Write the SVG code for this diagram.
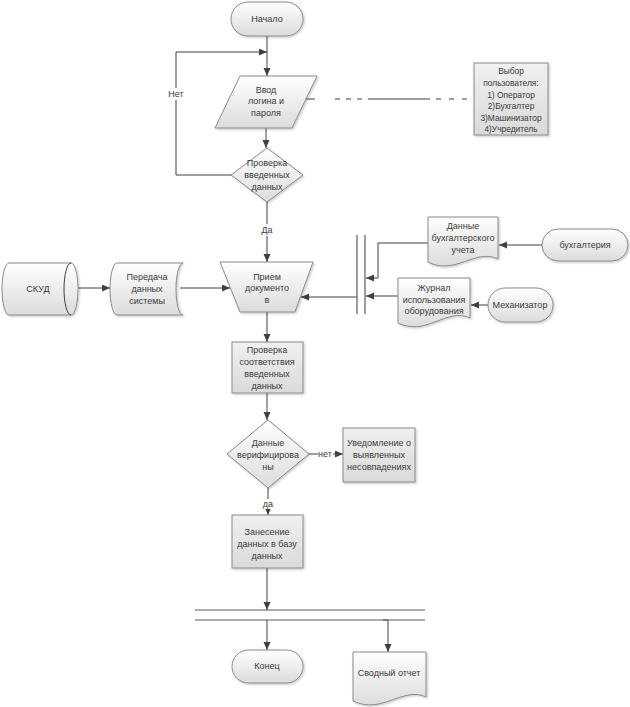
<svg xmlns="http://www.w3.org/2000/svg" width="630" height="707" viewBox="0 0 630 707">
<defs>
<linearGradient id="g" x1="0" y1="0" x2="0" y2="1">
<stop offset="0" stop-color="#ffffff"/>
<stop offset="1" stop-color="#dcdcdc"/>
</linearGradient>
<linearGradient id="g2" x1="0" y1="0" x2="0" y2="1">
<stop offset="0" stop-color="#f0f0f0"/>
<stop offset="1" stop-color="#dadada"/>
</linearGradient>
<filter id="sh" x="-10%" y="-10%" width="130%" height="130%">
<feDropShadow dx="1.2" dy="1.2" stdDeviation="0.8" flood-color="#000" flood-opacity="0.22"/>
</filter>
<marker id="ah" markerUnits="userSpaceOnUse" markerWidth="9" markerHeight="8" refX="8" refY="3.5" orient="auto">
<path d="M0,0 L8,3.5 L0,7 Z" fill="#404040"/>
</marker>
<style>
.s{fill:url(#g);stroke:#8a8a8a;stroke-width:1;filter:url(#sh)}
.r{fill:url(#g2);stroke:#8a8a8a;stroke-width:1;filter:url(#sh)}
.t{font-family:"Liberation Sans",Arial,sans-serif;font-size:9px;fill:#3a3a3a;text-anchor:middle}
.n{font-size:8.4px}
.c{fill:none;stroke:#404040;stroke-width:1}
.a{marker-end:url(#ah)}
.lb{fill:#ffffff}
.bar{stroke:#5a5a5a;stroke-width:1.2}
</style>
</defs>

<g id="connectors">
<path class="c a" d="M267,36 V76"/>
<path class="c a" d="M231,175 H176 V52 H267"/>
<path class="c a" d="M266,128 V148"/>
<path class="c a" d="M267,202 V262"/>
<path class="c a" d="M78,288 H110"/>
<path class="c a" d="M180,288 H230"/>
<path class="c a" d="M357,297 H301"/>
<path class="c a" d="M428,243 H378 V278 H366"/>
<path class="c a" d="M398,296 H366"/>
<path class="c a" d="M542,245 H499"/>
<path class="c a" d="M488,305 H471"/>
<path class="c a" d="M267,312 V342"/>
<path class="c a" d="M267,393 V420"/>
<path class="c a" d="M309,454 H343"/>
<path class="c a" d="M268,488 V515"/>
<path class="c a" d="M267,568 V610"/>
<path class="c a" d="M267,620 V650"/>
<path class="c a" d="M383,620 H388 V652"/>
<path class="c" d="M290,99 H315 M335,99 H340 M346,99 H351 M357,99 H362 M368,99 H430 M436,99 H441 M449,99 H454 M462,99 H467" stroke="#707070"/>
<line class="bar" x1="357" y1="235" x2="357" y2="314"/>
<line class="bar" x1="365" y1="235" x2="365" y2="314"/>
<line class="bar" x1="195" y1="610" x2="425" y2="610"/>
<line class="bar" x1="195" y1="620" x2="425" y2="620"/>
<rect class="lb" x="166" y="88" width="21" height="12"/>
<text class="t" x="176" y="97">Нет</text>
<rect class="lb" x="259" y="224" width="17" height="12"/>
<text class="t" x="267" y="233">Да</text>
<rect class="lb" x="318" y="449" width="15" height="10"/>
<text class="t" x="325" y="457">нет</text>
<rect class="lb" x="261" y="499" width="14" height="10"/>
<text class="t" x="268" y="507">да</text>
</g>

<g id="start">
<rect class="s" x="231" y="2" width="72" height="34" rx="17"/>
<text class="t" x="267" y="22">Начало</text>
</g>

<g id="input">
<polygon class="s" points="240,76 317,76 292,128 215,128"/>
<text class="t" x="266" y="93">Ввод</text>
<text class="t" x="266" y="104">логина и</text>
<text class="t" x="266" y="116">пароля</text>
</g>

<g id="note">
<rect class="r" x="474" y="63" width="74" height="72"/>
<text class="t n" x="511" y="74">Выбор</text>
<text class="t n" x="511" y="86">пользователя:</text>
<text class="t n" x="511" y="98">1) Оператор</text>
<text class="t n" x="511" y="109">2)Бухгалтер</text>
<text class="t n" x="511" y="121">3)Машинизатор</text>
<text class="t n" x="511" y="132">4)Учредитель</text>
</g>

<g id="check1">
<polygon class="s" points="267,148 303,175 267,202 231,175"/>
<text class="t" x="267" y="166">Проверка</text>
<text class="t" x="267" y="178">введенных</text>
<text class="t" x="267" y="190">данных</text>
</g>

<g id="skud">
<path class="s" d="M9,263 H71 A7,26 0 0 1 71,315 H9 A7,26 0 0 1 9,263 Z"/>
<path class="c" d="M71,263 A7,26 0 0 0 71,315" stroke="#8a8a8a"/>
<text class="t" x="38" y="292">СКУД</text>
</g>

<g id="transfer">
<path class="s" d="M117,263 H183 A7,26 0 0 0 183,315 H117 A7,26 0 0 1 117,263 Z"/>
<text class="t" x="147" y="280">Передача</text>
<text class="t" x="147" y="292">данных</text>
<text class="t" x="147" y="304">системы</text>
</g>

<g id="receive">
<polygon class="s" points="220,262 313,262 295,312 240,312"/>
<text class="t" x="267" y="280">Прием</text>
<text class="t" x="267" y="291">документо</text>
<text class="t" x="267" y="303">в</text>
</g>

<g id="doc1">
<path class="s" d="M428,217 H498 V259 C475,248 455,276 428,262 Z"/>
<text class="t" x="463" y="229">Данные</text>
<text class="t" x="463" y="241">бухгалтерского</text>
<text class="t" x="463" y="253">учета</text>
</g>

<g id="doc2">
<path class="s" d="M398,278 H470 V318 C447,307 426,337 398,323 Z"/>
<text class="t" x="434" y="291">Журнал</text>
<text class="t" x="434" y="303">использования</text>
<text class="t" x="434" y="314">оборудования</text>
</g>

<g id="buh">
<rect class="s" x="542" y="229" width="86" height="32" rx="16"/>
<text class="t" x="585" y="248">бухгалтерия</text>
</g>

<g id="mech">
<rect class="s" x="488" y="288" width="65" height="34" rx="17"/>
<text class="t" x="520" y="308">Механизатор</text>
</g>

<g id="check2">
<rect class="r" x="232" y="342" width="71" height="51"/>
<text class="t" x="267" y="353">Проверка</text>
<text class="t" x="267" y="365">соответствия</text>
<text class="t" x="267" y="377">введенных</text>
<text class="t" x="267" y="389">данных</text>
</g>

<g id="verified">
<polygon class="s" points="268,420 309,454 268,488 227,454"/>
<text class="t" x="268" y="446">Данные</text>
<text class="t" x="268" y="458">верифицирова</text>
<text class="t" x="268" y="470">ны</text>
</g>

<g id="notify">
<rect class="r" x="343" y="428" width="72" height="54"/>
<text class="t" x="379" y="446">Уведомление о</text>
<text class="t" x="379" y="458">выявленных</text>
<text class="t" x="379" y="470">несовпадениях</text>
</g>

<g id="store">
<rect class="r" x="232" y="515" width="71" height="53"/>
<text class="t" x="267" y="535">Занесение</text>
<text class="t" x="267" y="547">данных в базу</text>
<text class="t" x="267" y="559">данных</text>
</g>

<g id="end">
<rect class="s" x="232" y="650" width="71" height="33" rx="16.5"/>
<text class="t" x="267" y="669">Конец</text>
</g>

<g id="report">
<path class="s" d="M353,652 H426 V697 C403,686 382,715 353,701 Z"/>
<text class="t" x="389" y="676">Сводный отчет</text>
</g>
</svg>
